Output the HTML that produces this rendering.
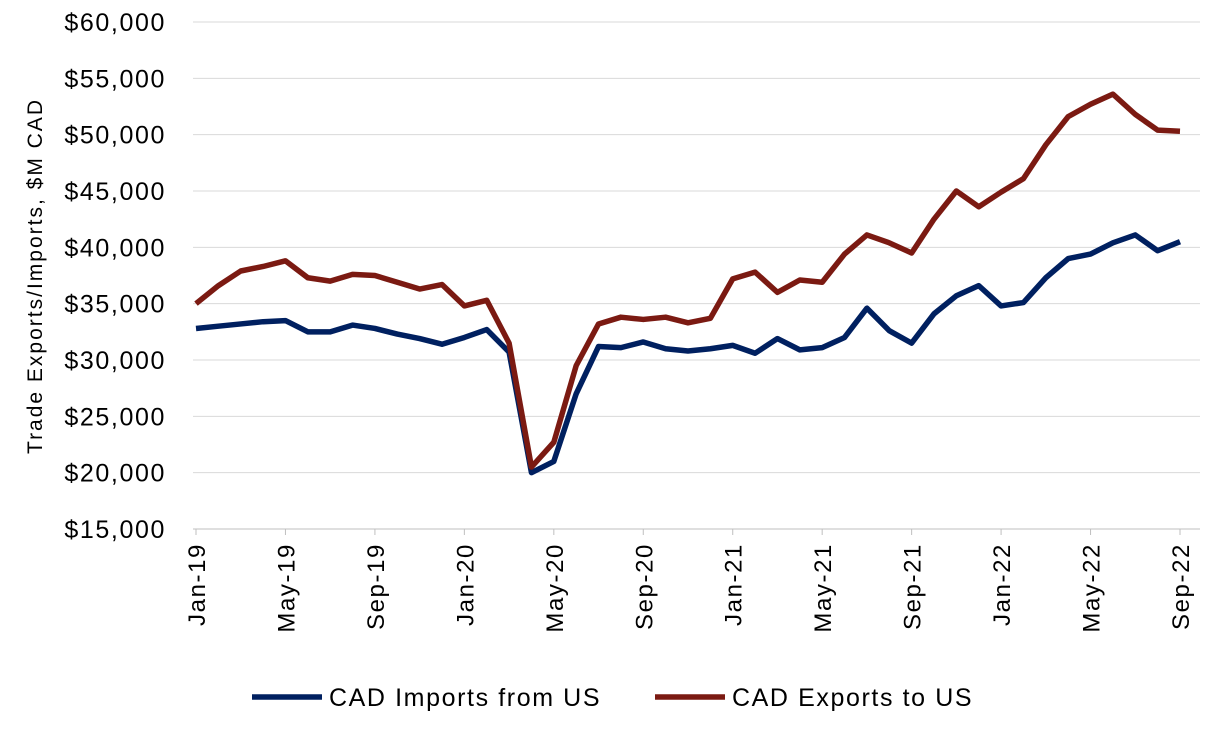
<!DOCTYPE html>
<html><head><meta charset="utf-8"><style>
html,body{margin:0;padding:0;background:#fff;}
svg{display:block;font-family:"Liberation Sans",sans-serif;}
</style></head><body>
<svg id="chart" width="1213" height="732" viewBox="0 0 1213 732"></svg>
<script>
const months = ["Jan-19","Feb-19","Mar-19","Apr-19","May-19","Jun-19","Jul-19","Aug-19","Sep-19","Oct-19","Nov-19","Dec-19","Jan-20","Feb-20","Mar-20","Apr-20","May-20","Jun-20","Jul-20","Aug-20","Sep-20","Oct-20","Nov-20","Dec-20","Jan-21","Feb-21","Mar-21","Apr-21","May-21","Jun-21","Jul-21","Aug-21","Sep-21","Oct-21","Nov-21","Dec-21","Jan-22","Feb-22","Mar-22","Apr-22","May-22","Jun-22","Jul-22","Aug-22","Sep-22"];
const imports = [32800,33000,33200,33400,33500,32500,32500,33100,32800,32300,31900,31400,32000,32700,30700,20000,21000,27000,31200,31100,31600,31000,30800,31000,31300,30600,31900,30900,31100,32000,34600,32600,31500,34100,35700,36600,34800,35100,37300,39000,39400,40400,41100,39700,40500];
const exportsUS = [35000,36600,37900,38300,38800,37300,37000,37600,37500,36900,36300,36700,34800,35300,31500,20500,22700,29500,33200,33800,33600,33800,33300,33700,37200,37800,36000,37100,36900,39400,41100,40400,39500,42500,45000,43600,44900,46100,49100,51600,52700,53600,51800,50400,50300];
const yTicks = [15000,20000,25000,30000,35000,40000,45000,50000,55000,60000];
const xTickIdx = [0,4,8,12,16,20,24,28,32,36,40,44];

const NS="http://www.w3.org/2000/svg";
const svg=document.getElementById('chart');
const x0=196,x1=1180,yBot=529,yTop=22,left=193,right=1200;
const xs=i=>x0+(x1-x0)*i/(months.length-1);
const ys=v=>yBot-(v-15000)/(60000-15000)*(yBot-yTop);
function mk(t,a){const e=document.createElementNS(NS,t);for(const k in a)e.setAttribute(k,a[k]);svg.appendChild(e);return e;}
const fmt=v=>"$"+v.toLocaleString("en-US");

yTicks.forEach(v=>{
  const g=mk('line',{x1:left,x2:right,y1:ys(v),y2:ys(v),stroke:v===15000?'#bfbfbf':'#d9d9d9','stroke-width':1});
  
  
  const t=mk('text',{x:166,y:ys(v)+9,'text-anchor':'end','font-size':25,'letter-spacing':1.6,fill:'#000'});
  t.textContent=fmt(v);
  
  
});
xTickIdx.forEach(i=>{
  const tk=mk('line',{x1:xs(i),x2:xs(i),y1:yBot,y2:yBot+6,stroke:'#bfbfbf','stroke-width':1});
  
  
  const t=mk('text',{x:0,y:0,'text-anchor':'end','font-size':24,'letter-spacing':1.6,fill:'#000',transform:`translate(${xs(i)+9},${yBot+14}) rotate(-90)`});
  t.textContent=months[i];
  
  
});
const yt=mk('text',{x:0,y:0,'text-anchor':'middle','font-size':21,'letter-spacing':2,fill:'#000',transform:'translate(42,276) rotate(-90)'});
yt.textContent="Trade Exports/Imports, $M CAD";



function line(data,color,name){
  const p=mk('polyline',{points:data.map((v,i)=>xs(i)+','+ys(v)).join(' '),fill:'none',stroke:color,'stroke-width':5.5,'stroke-linejoin':'round'});
  
  
}
line(imports,'#002060','imports-line');
line(exportsUS,'#7b1a12','exports-line');

const l1=mk('line',{x1:252,x2:322,y1:697,y2:697,stroke:'#002060','stroke-width':5.5});


const lt1=mk('text',{x:329,y:706,'font-size':25,'letter-spacing':1.6,fill:'#000'});
lt1.textContent="CAD Imports from US";


const l2=mk('line',{x1:655,x2:725,y1:697,y2:697,stroke:'#7b1a12','stroke-width':5.5});


const lt2=mk('text',{x:732,y:706,'font-size':25,'letter-spacing':1.6,fill:'#000'});
lt2.textContent="CAD Exports to US";


</script>
</body></html>
